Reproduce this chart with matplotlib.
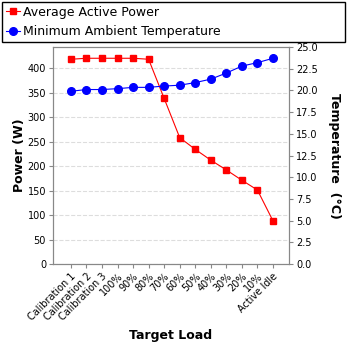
import matplotlib
matplotlib.use("Agg")
import matplotlib.pyplot as plt
from matplotlib.lines import Line2D

categories = ["Calibration 1", "Calibration 2", "Calibration 3", "100%", "90%", "80%",
              "70%", "60%", "50%", "40%", "30%", "20%", "10%", "Active Idle"]
power = [418, 420, 420, 420, 420, 418, 338, 258, 234, 212, 192, 171, 151, 88]
temperature = [19.9, 20.1, 20.1, 20.2, 20.35, 20.35, 20.5, 20.6, 20.9, 21.3, 22.0, 22.8, 23.2, 23.7]
power_ticks = [0, 50, 100, 150, 200, 250, 300, 350, 400]
temp_ticks = [0.0, 2.5, 5.0, 7.5, 10.0, 12.5, 15.0, 17.5, 20.0, 22.5, 25.0]

fig = plt.figure(figsize=(3.48, 3.48), dpi=100)
ax = fig.add_axes([53/348, 1-264/348, (289-53)/348, (264-47)/348])
ax2 = ax.twinx()

x = list(range(len(categories)))
ax.plot(x, power, color="#ff0000", marker="s", markersize=5, linewidth=0.8, zorder=3)
ax2.plot(x, temperature, color="#0000ff", marker="o", markersize=5.5, linewidth=0.8, zorder=3)

ax.set_ylim(0, 443)
ax2.set_ylim(0, 25)
ax.set_xlim(-1.15, len(categories) + 0.03)
ax.set_yticks(power_ticks)
ax2.set_yticks(temp_ticks)
ax2.set_yticklabels([f"{t:.1f}" for t in temp_ticks])
ax.set_xticks(x)
ax.set_xticklabels(categories, rotation=45, ha="right", rotation_mode="anchor")

ax.yaxis.grid(True, linestyle="--", color="#dddddd", linewidth=0.8)
ax.set_axisbelow(True)

for a in (ax, ax2):
    for s in a.spines.values():
        s.set_color("#888888")
    a.tick_params(colors="#888888", labelcolor="black", labelsize=7, length=3, pad=2)

ax.set_xlabel("Target Load", fontsize=9, fontweight="bold", labelpad=5)
ax.set_ylabel("Power (W)", fontsize=9, fontweight="bold", labelpad=1)
ax2.set_ylabel("Temperature  (°C)", fontsize=9, fontweight="bold", rotation=-90, labelpad=17)

handles = [Line2D([], [], color="#ff0000", marker="s", markersize=5, linewidth=0.8),
           Line2D([], [], color="#0000ff", marker="o", markersize=5.5, linewidth=0.8)]
leg = fig.legend(handles, ["Average Active Power", "Minimum Ambient Temperature"],
                 loc="upper left", bbox_to_anchor=(2/348, 1-2/348, 343/348, 0),
                 mode="expand", fontsize=9, fancybox=False, framealpha=1,
                 handlelength=1.1, handletextpad=0.3, borderpad=0.3, labelspacing=0.5,
                 borderaxespad=0)
leg.get_frame().set_edgecolor("black")
leg.get_frame().set_linewidth(1)

fig.savefig("out.png", dpi=100)
